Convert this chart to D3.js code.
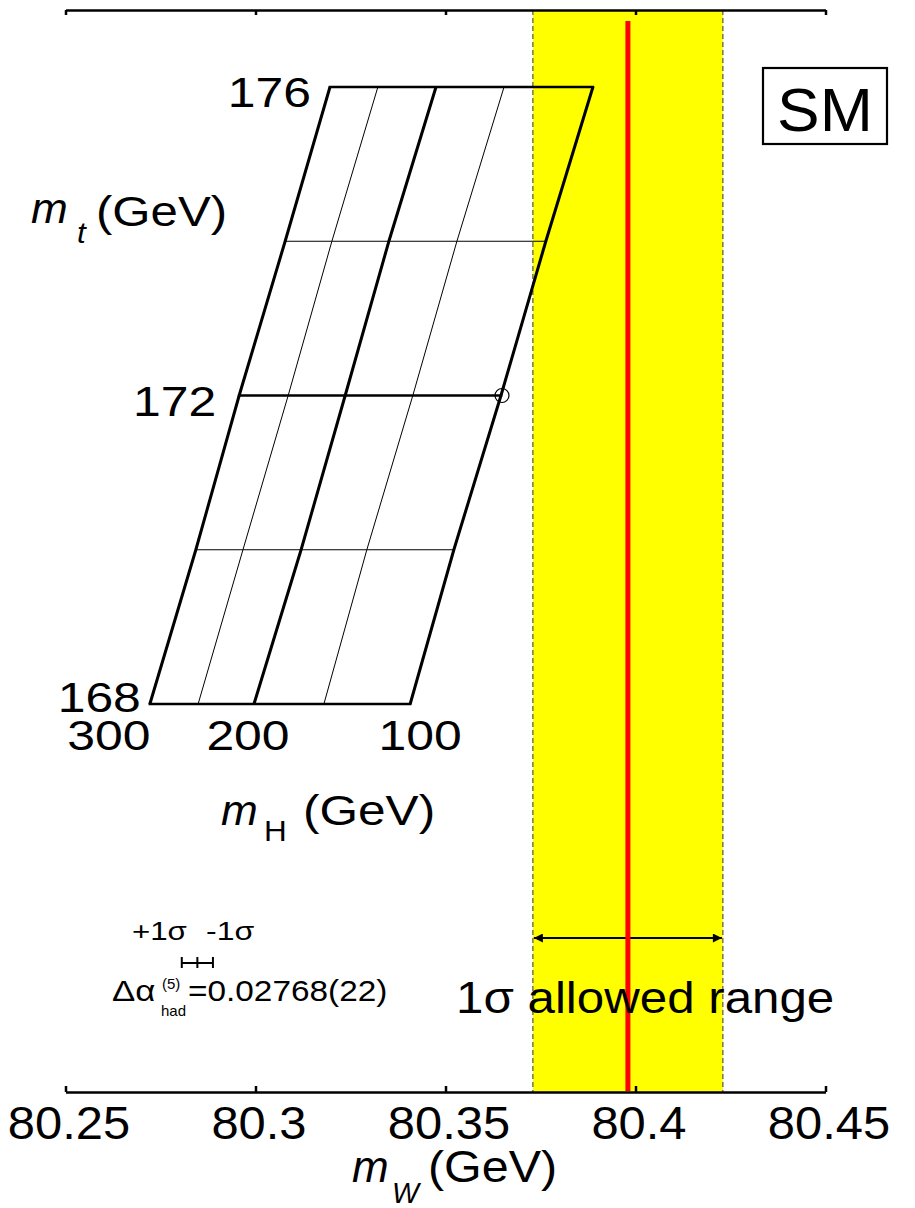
<!DOCTYPE html>
<html>
<head>
<meta charset="utf-8">
<script src="https://cdn.jsdelivr.net/npm/d3@7"></script>
<style>
  html, body { margin: 0; padding: 0; background: #fff; }
  svg { display: block; }
</style>
</head>
<body>
<svg id="chart" width="915" height="1208"></svg>
<script>
// ---- data -------------------------------------------------------------
// W-boson mass axis
const xTickValues = [80.25, 80.3, 80.35, 80.4, 80.45];

// measured m_W with its 1-sigma uncertainty (GeV)
const mwMeasured = 80.398;
const mwError = 0.025;

// SM prediction grid: rows are m_t, columns are m_H
const mtValues = [168, 170, 172, 174, 176];
const mhValues = [300, 250, 200, 150, 100];
const mwPrediction = [
  [80.2722, 80.2849, 80.2996, 80.3180, 80.3407], // m_t = 168
  [80.2843, 80.2967, 80.3120, 80.3293, 80.3522], // m_t = 170
  [80.2957, 80.3086, 80.3236, 80.3414, 80.3646], // m_t = 172
  [80.3078, 80.3201, 80.3351, 80.3530, 80.3764], // m_t = 174
  [80.3196, 80.3322, 80.3475, 80.3654, 80.3888]  // m_t = 176
];
const mtMajor = [168, 172, 176];
const mhMajor = [300, 200, 100];
const mtLabels = ["176", "172", "168"];
const mhLabels = ["300", "200", "100"];

// reference point marked on the grid
const refPoint = { mt: 172, mh: 100 };

// shift of the prediction for +-1 sigma in the hadronic vacuum polarisation
const alphaRefMW = 80.2847;
const alphaShift = 0.0041;

// ---- layout -----------------------------------------------------------
const FONT = "'Liberation Sans', Arial, Helvetica, sans-serif";
const svg = d3.select("#chart");
const plotTop = 10, plotBottom = 1092;

const x = d3.scaleLinear().domain([80.25, 80.45]).range([65.5, 825.5]);
const yMt = d3.scaleLinear().domain([168, 176]).range([704, 87]);

// text helper: optionally widened glyphs
function txt(parent, str, px, py, size, opt = {}) {
  const g = parent.append("g")
    .attr("transform", `translate(${px},${py}) scale(${opt.k || 1},1)`);
  g.append("text")
    .attr("x", 0).attr("y", 0)
    .attr("font-family", FONT)
    .attr("font-size", size)
    .attr("font-style", opt.italic ? "italic" : "normal")
    .attr("text-anchor", opt.anchor || "start")
    .attr("fill", "#000")
    .text(str);
  return g;
}

// ---- allowed band -----------------------------------------------------
const lo = mwMeasured - mwError, hi = mwMeasured + mwError;
svg.append("rect")
  .attr("x", x(lo)).attr("y", plotTop + 1)
  .attr("width", x(hi) - x(lo)).attr("height", plotBottom - plotTop - 1)
  .attr("fill", "#ffff00");
svg.selectAll("line.edge").data([lo, hi]).enter().append("line")
  .attr("class", "edge")
  .attr("x1", d => x(d)).attr("x2", d => x(d))
  .attr("y1", plotTop).attr("y2", plotBottom)
  .attr("stroke", "#333").attr("stroke-width", 1)
  .attr("stroke-dasharray", "5,3");

// ---- axes -------------------------------------------------------------
const bottomAxis = d3.axisBottom(x).tickValues(xTickValues)
  .tickSize(-6).tickSizeOuter(0).tickFormat(d => String(d));
const gb = svg.append("g").attr("transform", `translate(0,${plotBottom})`).call(bottomAxis);
gb.select(".domain").attr("stroke", "#000").attr("stroke-width", 2.5);
gb.selectAll(".tick line").attr("stroke", "#000").attr("stroke-width", 2.5);
gb.selectAll(".tick text")
  .attr("font-family", FONT).attr("font-size", 47).attr("fill", "#000")
  .attr("y", 0).attr("dy", 0)
  .attr("transform", "translate(3,47) scale(1.04,1)");

const topAxis = d3.axisTop(x).tickValues(xTickValues)
  .tickSize(-5).tickSizeOuter(0).tickFormat("");
const gt = svg.append("g").attr("transform", `translate(0,${plotTop})`).call(topAxis);
gt.select(".domain").attr("stroke", "#000").attr("stroke-width", 2.5);
gt.selectAll(".tick line").attr("stroke", "#000").attr("stroke-width", 2.5);

// ---- prediction grid --------------------------------------------------
const line = d3.line().x(d => x(d.mw)).y(d => yMt(d.mt));
const grid = svg.append("g").attr("fill", "none").attr("stroke", "#000");

mhValues.forEach((mh, j) => {
  const pts = mtValues.map((mt, i) => ({ mt, mw: mwPrediction[i][j] }));
  grid.append("path").attr("d", line(pts))
    .attr("stroke-width", mhMajor.includes(mh) ? 3 : 1);
});
mtValues.forEach((mt, i) => {
  const pts = mhValues.map((mh, j) => ({ mt, mw: mwPrediction[i][j] }));
  grid.append("path").attr("d", line(pts))
    .attr("stroke-width", mtMajor.includes(mt) ? 2.6 : 1)
    .attr("stroke-linecap", "square");
});

const ri = mtValues.indexOf(refPoint.mt), rj = mhValues.indexOf(refPoint.mh);
svg.append("circle")
  .attr("cx", x(mwPrediction[ri][rj]) + 1).attr("cy", yMt(refPoint.mt))
  .attr("r", 7).attr("fill", "none").attr("stroke", "#000").attr("stroke-width", 1.2);

// grid labels
const col300 = mhValues.indexOf(300);
const mtLabelOffsets = { "176": [-19, 20], "172": [-23, 20], "168": [-9, 8] };
mtLabels.forEach(s => {
  const mt = +s, i = mtValues.indexOf(mt);
  const o = mtLabelOffsets[s];
  txt(svg, s, x(mwPrediction[i][col300]) + o[0], yMt(mt) + o[1], 43, { anchor: "end", k: 1.16 });
});
const row168 = mtValues.indexOf(168);
const mhLabelOffsets = { "300": -41, "200": -6, "100": 10 };
mhLabels.forEach(s => {
  const j = mhValues.indexOf(+s);
  txt(svg, s, x(mwPrediction[row168][j]) + mhLabelOffsets[s], 750, 43, { anchor: "middle", k: 1.16 });
});

// axis titles of the grid
txt(svg, "m", 31, 223, 42, { italic: true, k: 1.05 });
txt(svg, "t", 77, 243, 30, { italic: true, k: 1.05 });
txt(svg, "(GeV)", 96, 226, 42, { k: 1.17 });

txt(svg, "m", 221, 825, 42, { italic: true, k: 1.05 });
txt(svg, "H", 264, 841, 30, { k: 1.05 });
txt(svg, "(GeV)", 303, 825, 42, { k: 1.18 });

// main x title
txt(svg, "m", 352, 1182, 44, { italic: true, k: 1.0 });
txt(svg, "W", 392, 1203, 30, { italic: true, k: 0.95 });
txt(svg, "(GeV)", 428, 1182, 44, { k: 1.1 });

// ---- SM box -----------------------------------------------------------
svg.append("rect").attr("x", 763).attr("y", 68).attr("width", 124).attr("height", 76)
  .attr("fill", "#fff").attr("stroke", "#000").attr("stroke-width", 2.2);
txt(svg, "SM", 825, 131, 62, { anchor: "middle", k: 1.03 });

// ---- hadronic vacuum polarisation legend ------------------------------
txt(svg, "+1σ", 132, 940, 25, { k: 1.25 });
txt(svg, "-1σ", 206, 940, 25, { k: 1.28 });
const ebY = 963;
const eb = svg.append("g").attr("stroke", "#000").attr("stroke-width", 2);
eb.append("line").attr("x1", x(alphaRefMW - alphaShift)).attr("x2", x(alphaRefMW + alphaShift))
  .attr("y1", ebY).attr("y2", ebY);
[alphaRefMW - alphaShift, alphaRefMW, alphaRefMW + alphaShift].forEach(v => {
  eb.append("line").attr("x1", x(v)).attr("x2", x(v)).attr("y1", ebY - 6).attr("y2", ebY + 5);
});
txt(svg, "Δα", 112, 1001, 29, { k: 1.2 });
txt(svg, "(5)", 162, 989, 15, { k: 1.0 });
txt(svg, "had", 161, 1016, 15, { k: 1.0 });
txt(svg, "=0.02768(22)", 188, 1001, 29, { k: 1.15 });

// ---- allowed-range arrow, measurement line ----------------------------
const defs = svg.append("defs");
defs.append("marker").attr("id", "ah").attr("viewBox", "0 0 10 10")
  .attr("refX", 10).attr("refY", 5).attr("markerWidth", 14).attr("markerHeight", 9)
  .attr("markerUnits", "userSpaceOnUse").attr("orient", "auto-start-reverse")
  .append("path").attr("d", "M0,0 L10,5 L0,10 Z").attr("fill", "#000");
svg.append("line")
  .attr("x1", x(lo) + 1).attr("x2", x(hi) - 1).attr("y1", 938).attr("y2", 938)
  .attr("stroke", "#000").attr("stroke-width", 2)
  .attr("marker-start", "url(#ah)").attr("marker-end", "url(#ah)");

svg.append("line")
  .attr("x1", x(mwMeasured)).attr("x2", x(mwMeasured))
  .attr("y1", 21).attr("y2", plotBottom - 1)
  .attr("stroke", "#ff0000").attr("stroke-width", 5);

txt(svg, "1σ allowed range", 456, 1013, 44, { k: 1.12 });
</script>
</body>
</html>
